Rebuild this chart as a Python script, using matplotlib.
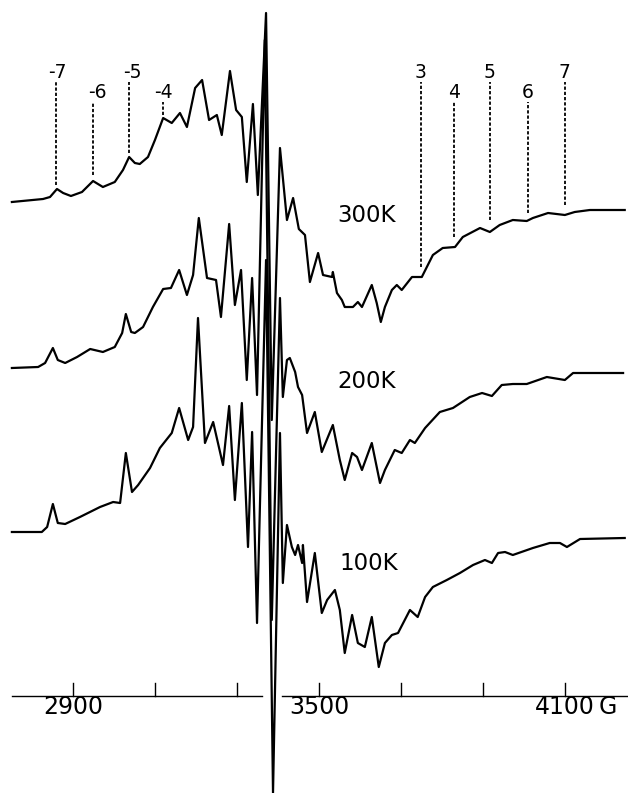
import matplotlib
matplotlib.use('Agg')
import matplotlib.pyplot as plt

# ---- spectra: magnetic field (G) and derivative intensity (arb. units, baseline = 0)
field_300 = [2751, 2827, 2844, 2861, 2876, 2895, 2922, 2949, 2973, 3002, 3022, 3037, 3051, 3063,
             3083, 3100, 3120, 3141, 3161, 3178, 3198, 3215, 3232, 3251, 3263, 3283, 3298, 3312,
             3324, 3339, 3351, 3371, 3385, 3405, 3422, 3437, 3451, 3466, 3478, 3498, 3510, 3532,
             3534, 3544, 3556, 3563, 3583, 3595, 3605, 3629, 3641, 3651, 3661, 3678, 3690, 3702,
             3727, 3751, 3778, 3802, 3832, 3851, 3893, 3917, 3941, 3973, 4007, 4022, 4059, 4100,
             4124, 4161, 4246]
int_300 = [-2, 1, 3, 11, 7, 4, 8, 19, 13, 18, 30, 43, 37, 36,
           43, 60, 82, 77, 87, 73, 112, 120, 80, 85, 65, 129, 90, 83,
           18, 96, 5, 187, -220, 52, -20, 2, -29, -35, -82, -53, -75, -77,
           -72, -93, -100, -107, -107, -102, -107, -85, -103, -122, -107, -90, -85, -90,
           -77, -77, -55, -48, -47, -37, -28, -32, -25, -20, -21, -18, -13, -15,
           -12, -10, -10]

field_200 = [2751, 2815, 2832, 2851, 2863, 2881, 2910, 2942, 2973, 3002, 3020, 3029, 3042, 3051,
             3071, 3095, 3120, 3139, 3159, 3178, 3193, 3207, 3227, 3249, 3261, 3281, 3295, 3310,
             3324, 3337, 3349, 3368, 3385, 3405, 3412, 3422, 3429, 3442, 3449, 3459, 3471, 3490,
             3507, 3534, 3551, 3563, 3581, 3593, 3605, 3629, 3649, 3661, 3685, 3702, 3722, 3734,
             3759, 3795, 3827, 3868, 3898, 3922, 3946, 3973, 4007, 4056, 4100, 4120, 4242]
int_200 = [0, 1, 5, 20, 8, 5, 11, 19, 16, 21, 35, 54, 36, 35,
           41, 61, 79, 80, 98, 73, 93, 150, 90, 88, 51, 144, 63, 98,
           -12, 90, -27, 328, -252, 70, -29, 8, 10, -4, -19, -27, -65, -44,
           -84, -57, -92, -112, -85, -89, -102, -75, -115, -102, -82, -85, -72, -75,
           -60, -44, -40, -29, -25, -28, -17, -16, -16, -9, -12, -5, -5]

field_100 = [2751, 2824, 2837, 2851, 2863, 2881, 2917, 2966, 2998, 3015, 3029, 3044, 3059, 3088,
             3112, 3141, 3159, 3181, 3193, 3205, 3222, 3242, 3266, 3281, 3295, 3312, 3327, 3337,
             3349, 3371, 3388, 3405, 3412, 3422, 3434, 3442, 3449, 3459, 3461, 3471, 3490, 3507,
             3520, 3539, 3551, 3563, 3581, 3595, 3612, 3629, 3646, 3661, 3678, 3693, 3722, 3741,
             3759, 3778, 3812, 3844, 3876, 3905, 3922, 3937, 3954, 3973, 4022, 4063, 4088, 4105,
             4137, 4246]
int_100 = [0, 0, 5, 28, 9, 8, 15, 25, 30, 29, 79, 40, 47, 64,
           84, 99, 124, 92, 105, 214, 89, 110, 67, 126, 32, 129, -15, 100,
           -91, 272, -261, 99, -51, 7, -15, -23, -13, -31, -13, -70, -21, -81,
           -68, -58, -78, -121, -83, -111, -115, -85, -135, -111, -103, -101, -78, -85,
           -65, -55, -48, -41, -33, -28, -31, -21, -20, -23, -16, -11, -11, -15,
           -7, -6]

temps = ['300K', '200K', '100K']

# hyperfine line markers on the 300 K trace
marker_labels = ['-7', '-6', '-5', '-4', '3', '4', '5', '6', '7']
marker_fields = [2859, 2949, 3037, 3120, 3749, 3829, 3917, 4010, 4100]
marker_ends = [15, 25, 47, 85, -67, -37, -20, -13, -5]   # lower end, relative to 300 K baseline

# field axis
tick_fields = [2900, 3100, 3300, 3500, 3700, 3900, 4100]
label_fields = [2900, 3500, 4100]
label_texts = ['2900', '3500', '4100']

# ---- layout (positions only)
offsets = [593, 425, 261]
axis_y = 97
fig = plt.figure(figsize=(6.28, 7.93), dpi=100)
ax = fig.add_axes([0, 0, 1, 1])
ax.set_xlim(2722, 4254)
ax.set_ylim(0, 793)
ax.axis('off')

traces = [(field_300, int_300), (field_200, int_200), (field_100, int_100)]
for (f, v), off in zip(traces, offsets):
    ax.plot(f, [off + y for y in v], color='black', lw=1.6, solid_joinstyle='round')

temp_pos = [(3546, 578), (3546, 412), (3551, 229)]
for t, (x, y) in zip(temps, temp_pos):
    ax.text(x, y, t, fontsize=16.5, ha='left', va='center', color='black')

# markers
tops = [118, 98, 118, 98, 118, 98, 118, 98, 118]
label_dx = [2, 10, 7, 0, 0, 0, 0, 0, 0]
for lab, fx, end, top, dx in zip(marker_labels, marker_fields, marker_ends, tops, label_dx):
    ax.plot([fx, fx], [offsets[0] + end, offsets[0] + top], color='black', lw=1.3,
            linestyle=(0, (1.8, 1.1)))
    ax.text(fx + dx, offsets[0] + top + 9, lab, fontsize=13.5, ha='center', va='center',
            color='black')

# field axis with gap at centre
ax.plot([2751, 3361], [axis_y, axis_y], color='black', lw=1.0)
ax.plot([3410, 4254], [axis_y, axis_y], color='black', lw=1.0)
for tf in tick_fields:
    ax.plot([tf, tf], [axis_y, axis_y + 13], color='black', lw=1.0)
for lf, lt in zip(label_fields, label_texts):
    ax.text(lf, axis_y - 11, lt, fontsize=17, ha='center', va='center', color='black')
ax.text(4183, axis_y - 11, 'G', fontsize=17, ha='left', va='center', color='black')

fig.savefig('out.png', dpi=100, facecolor='white')
